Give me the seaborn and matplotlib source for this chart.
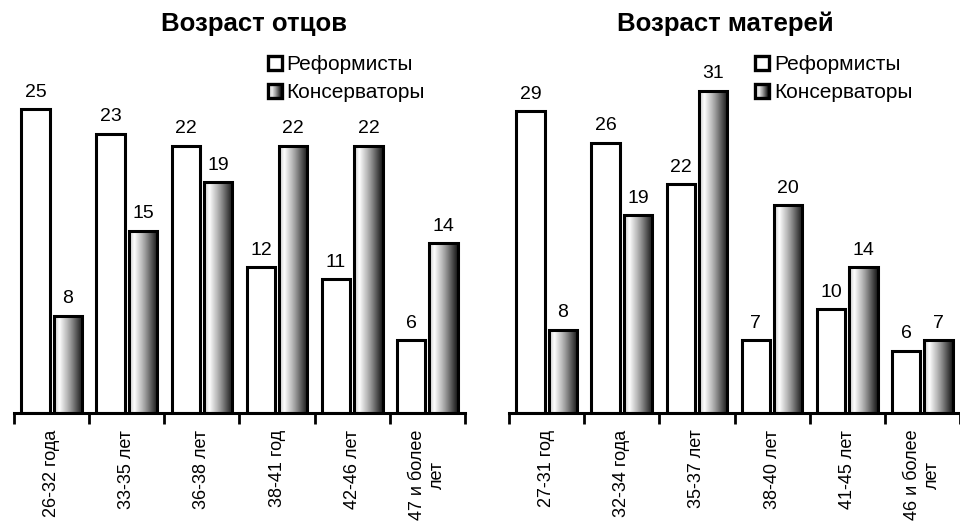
import pandas as pd
import numpy as np
import seaborn as sns
import matplotlib.pyplot as plt
from matplotlib.colors import LinearSegmentedColormap
from matplotlib.patches import Rectangle
from matplotlib.legend_handler import HandlerBase

# data
fathers_cats = ["26-32 года", "33-35 лет", "36-38 лет", "38-41 год", "42-46 лет", "47 и более\nлет"]
fathers_ref = [25, 23, 22, 12, 11, 6]
fathers_con = [8, 15, 19, 22, 22, 14]

mothers_cats = ["27-31 год", "32-34 года", "35-37 лет", "38-40 лет", "41-45 лет", "46 и более\nлет"]
mothers_ref = [29, 26, 22, 7, 10, 6]
mothers_con = [8, 19, 31, 20, 14, 7]

series = ["Реформисты", "Консерваторы"]

sns.set_style("white")
plt.rcParams['font.family'] = ['Liberation Sans', 'DejaVu Sans']
plt.rcParams['text.color'] = 'black'
plt.rcParams['xtick.color'] = 'black'
plt.rcParams['xtick.labelcolor'] = 'black'

grad = LinearSegmentedColormap.from_list(
    "g", [(0.0, "#c8c8c8"), (0.18, "#ffffff"), (0.55, "#a0a0a0"), (1.0, "#151515")])


class GradHandler(HandlerBase):
    def create_artists(self, legend, orig, xd, yd, w, h, fontsize, trans):
        n = 12
        arts = []
        for i in range(n):
            r = Rectangle((-xd + w * i / n, -yd), w / n + 0.3, h,
                          facecolor=grad((i + 0.5) / n), edgecolor="none", transform=trans)
            arts.append(r)
        arts.append(Rectangle((-xd, -yd), w, h, facecolor="none",
                              edgecolor="black", linewidth=2.4, transform=trans))
        return arts


def draw(ax, cats, ref, con, ytop):
    df = pd.DataFrame({
        "cat": cats * 2,
        "val": ref + con,
        "grp": [series[0]] * len(cats) + [series[1]] * len(cats),
    })
    sns.barplot(data=df, x="cat", y="val", hue="grp", order=cats, hue_order=series,
                palette=["white", "white"], edgecolor="black", linewidth=2.2,
                width=0.86, gap=0.12, legend=False, ax=ax)
    # gradient fill for the second series
    for bar in ax.containers[1]:
        x, w, h = bar.get_x(), bar.get_width(), bar.get_height()
        bar.set_facecolor("none")
        bar.set_zorder(3)
        ax.imshow(np.linspace(0, 1, 64).reshape(1, -1), cmap=grad, aspect="auto",
                  extent=[x, x + w, 0, h], zorder=2)
    for c in ax.containers:
        ax.bar_label(c, padding=6, fontsize=14, color="black")
    ax.set_xlim(-0.5, len(cats) - 0.5)
    ax.set_ylim(0, ytop)
    ax.set_xlabel("")
    ax.set_ylabel("")
    ax.set_yticks([])
    # boundary ticks, labels at centers
    ax.set_xticks(np.arange(len(cats)))
    ax.set_xticklabels(cats, rotation=90, fontsize=13, ha="center", va="top",
                       multialignment="center", color="black")
    ax.tick_params(axis="x", which="major", length=0, pad=12)
    ax.set_xticks(np.arange(len(cats) + 1) - 0.5, minor=True)
    ax.tick_params(axis="x", which="minor", bottom=True, length=8, width=2,
                   color="black", direction="out")
    for s in ["left", "right", "top"]:
        ax.spines[s].set_visible(False)
    ax.spines["bottom"].set_linewidth(2.2)
    ax.spines["bottom"].set_color("black")


fig = plt.figure(figsize=(9.6, 5.27), dpi=100)
ax1 = fig.add_axes([14 / 960, 114 / 527, 451 / 960, 353 / 527])
ax2 = fig.add_axes([509 / 960, 114 / 527, 451 / 960, 353 / 527])

draw(ax1, fathers_cats, fathers_ref, fathers_con, 353 / 12.15)
draw(ax2, mothers_cats, mothers_ref, mothers_con, 353 / 10.4)

fig.text(254 / 960, 1 - 24 / 527, "Возраст отцов", ha="center", va="center",
         fontsize=18.5, fontweight="bold")
fig.text(725 / 960, 1 - 24 / 527, "Возраст матерей", ha="center", va="center",
         fontsize=18.5, fontweight="bold")

handles = [Rectangle((0, 0), 1, 1, facecolor="white", edgecolor="black", linewidth=2.4),
           Rectangle((0, 0), 1, 1)]
for xpos in [268, 755]:
    fig.legend(handles, series, loc="upper left",
               bbox_to_anchor=(xpos / 960, 1 - 55 / 527), bbox_transform=fig.transFigure,
               frameon=False, fontsize=15, handlelength=0.65, handleheight=0.65,
               handletextpad=0.25, labelspacing=0.45, borderpad=0, borderaxespad=0,
               handler_map={handles[1]: GradHandler()})

fig.savefig("out.png", dpi=100)
